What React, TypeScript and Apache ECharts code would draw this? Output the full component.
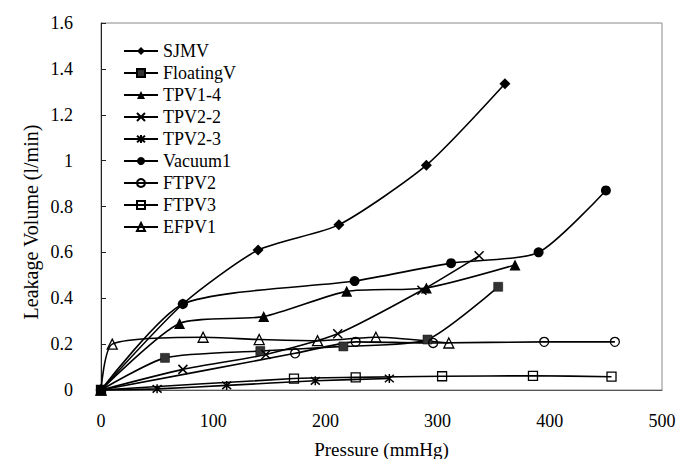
import { useEffect, useRef } from "react";
import * as echarts from "echarts";

// Leakage volume (l/min) against pressure (mmHg), one pair of arrays per valve
const sjmvP = [0, 73, 140, 212, 290, 360];
const sjmvV = [0, 0.375, 0.61, 0.72, 0.98, 1.335];
const floatingP = [0, 57, 142, 216, 291, 354];
const floatingV = [0, 0.14, 0.17, 0.19, 0.22, 0.45];
const tpv14P = [0, 70, 145, 219, 290, 369];
const tpv14V = [0, 0.29, 0.32, 0.43, 0.445, 0.545];
const tpv22P = [0, 73, 147, 211, 286, 337];
const tpv22V = [0, 0.09, 0.155, 0.245, 0.435, 0.585];
const tpv23P = [0, 50, 112, 191, 257];
const tpv23V = [0, 0.005, 0.02, 0.04, 0.05];
const vacuumP = [0, 73, 226, 312, 390, 450];
const vacuumV = [0, 0.375, 0.475, 0.553, 0.6, 0.87];
const ftpv2P = [0, 173, 227, 296, 395, 458];
const ftpv2V = [0, 0.16, 0.21, 0.205, 0.21, 0.21];
const ftpv3P = [0, 172, 227, 304, 385, 455];
const ftpv3V = [0, 0.05, 0.055, 0.06, 0.062, 0.058];
const efpv1P = [0, 10, 91, 141, 193, 245, 310];
const efpv1V = [0, 0.2, 0.23, 0.22, 0.215, 0.23, 0.205];

const seriesNames = ["SJMV", "FloatingV", "TPV1-4", "TPV2-2", "TPV2-3", "Vacuum1", "FTPV2", "FTPV3", "EFPV1"];
const yTitle = "Leakage Volume (l/min)";
const xTitle = "Pressure (mmHg)";

const FONT = "'Liberation Serif', 'Times New Roman', serif";
const CROSS = "path://M0,0L10,10M10,0L0,10";
const STAR = "path://M0,0L10,10M10,0L0,10M5,-1L5,11";

function pairs(p: number[], v: number[]) {
  return p.map((x, i) => [x, v[i]]);
}

export default function App() {
  const ref = useRef<HTMLDivElement>(null);

  useEffect(() => {
    if (!ref.current) return;
    const chart = echarts.init(ref.current, null, { renderer: "svg" });

    const base = (name: string, data: number[][], symbol: string, size: number, item: any) => ({
      name,
      type: "line",
      data,
      smooth: 0.22,
      symbol,
      symbolSize: size,
      showSymbol: true,
      lineStyle: { color: "#000", width: 1.6 },
      itemStyle: item,
      emphasis: { disabled: true },
      z: 3,
    });

    const solid = { color: "#000", borderColor: "#000", borderWidth: 0 };
    const hollow = { color: "transparent", borderColor: "#000", borderWidth: 1.3 };
    const stroke = { color: "#000", borderColor: "#000", borderWidth: 1.5 };

    chart.setOption({
      animation: false,
      backgroundColor: "#fff",
      textStyle: { fontFamily: FONT, color: "#000" },
      grid: {
        left: 93,
        top: 15,
        right: 34,
        bottom: 77,
        show: true,
        borderColor: "#888",
        borderWidth: 1,
        backgroundColor: "#fff",
      },
      legend: {
        data: seriesNames,
        orient: "vertical",
        left: 110,
        top: 29,
        itemWidth: 34,
        itemHeight: 10,
        itemGap: 4,
        textStyle: { fontFamily: FONT, fontSize: 18, color: "#000" },
        selectedMode: false,
      },
      graphic: [
        {
          type: "text",
          x: 23,
          y: 214,
          rotation: Math.PI / 2,
          style: {
            text: yTitle,
            font: `20px ${FONT}`,
            fill: "#000",
            textAlign: "center",
            textVerticalAlign: "middle",
          },
        },
      ],
      xAxis: {
        type: "value",
        min: 0,
        max: 500,
        interval: 100,
        name: xTitle,
        nameLocation: "middle",
        nameGap: 50,
        nameTextStyle: { fontFamily: FONT, fontSize: 19, color: "#000" },
        axisLine: { show: true, lineStyle: { color: "#555", width: 1 } },
        axisTick: { show: false },
        axisLabel: { margin: 22, fontFamily: FONT, fontSize: 18, color: "#000" },
        splitLine: { show: false },
      },
      yAxis: {
        type: "value",
        min: 0,
        max: 1.6,
        interval: 0.2,
        axisLine: { show: true, lineStyle: { color: "#222", width: 1 } },
        axisTick: { show: true, inside: true, length: 5, lineStyle: { color: "#222" } },
        axisLabel: { margin: 28, fontFamily: FONT, fontSize: 18, color: "#000" },
        splitLine: { show: false },
      },
      series: [
        base("SJMV", pairs(sjmvP, sjmvV), "diamond", 11, solid),
        base("FloatingV", pairs(floatingP, floatingV), "rect", 9, { color: "#333", borderColor: "#000", borderWidth: 0.5 }),
        base("TPV1-4", pairs(tpv14P, tpv14V), "triangle", 11, solid),
        base("TPV2-2", pairs(tpv22P, tpv22V), CROSS, 9, stroke),
        base("TPV2-3", pairs(tpv23P, tpv23V), STAR, 9, stroke),
        base("Vacuum1", pairs(vacuumP, vacuumV), "circle", 10, solid),
        base("FTPV2", pairs(ftpv2P, ftpv2V), "circle", 9, hollow),
        base("FTPV3", pairs(ftpv3P, ftpv3V), "rect", 9, hollow),
        base("EFPV1", pairs(efpv1P, efpv1V), "triangle", 10, hollow),
      ],
    });

    return () => chart.dispose();
  }, []);

  return <div ref={ref} style={{ width: 688, height: 459 }} />;
}
